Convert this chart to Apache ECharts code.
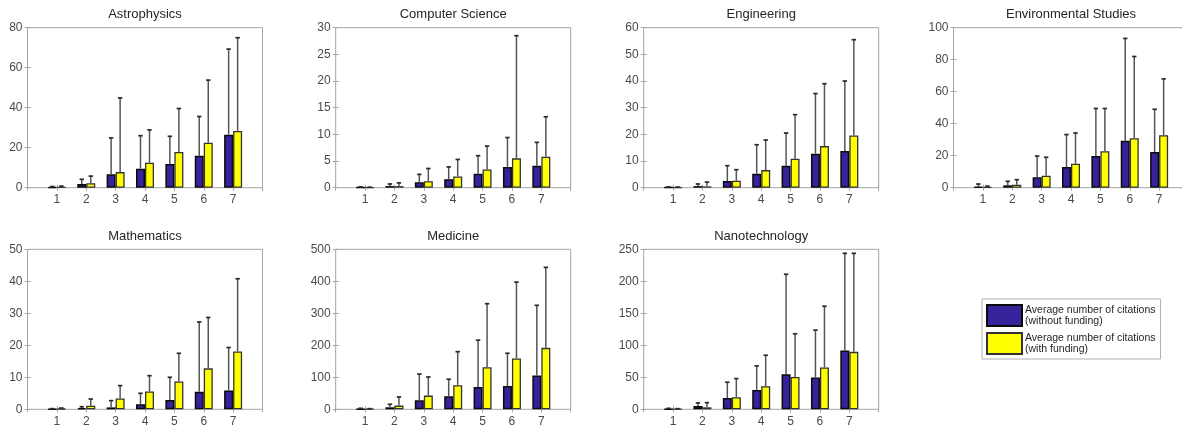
<!DOCTYPE html>
<html><head><meta charset="utf-8">
<script src="https://cdn.jsdelivr.net/npm/echarts@6/dist/echarts.min.js"></script>
<style>html,body{margin:0;padding:0;background:#fff}#c{width:1182px;height:425px}</style>
</head><body><div id="c"></div>
<script>
// ---------------- data ----------------
const categories = [1, 2, 3, 4, 5, 6, 7];
const subjects = ['Astrophysics', 'Computer Science', 'Engineering', 'Environmental Studies', 'Mathematics', 'Medicine', 'Nanotechnology'];
const legendLabels = ['Average number of citations\n(without funding)', 'Average number of citations\n(with funding)'];
const yMaxes = [80, 30, 60, 100, 50, 500, 250];
const ySteps = [20, 5, 10, 20, 10, 100, 50];

// mean values and upper end of error bar (mean + deviation)
const astroWithout      = [0.3, 1.8, 6.7, 9.5, 11.9, 16.0, 26.5];
const astroWithoutUpper = [0.6, 4.2, 24.9, 26.0, 25.7, 35.6, 69.3];
const astroWith         = [0.3, 2.2, 7.8, 12.5, 17.9, 22.5, 28.4];
const astroWithUpper    = [0.8, 5.8, 44.9, 28.9, 39.6, 53.8, 75.0];

const csWithout      = [0.05, 0.3, 1.0, 1.6, 2.6, 3.9, 4.1];
const csWithoutUpper = [0.15, 0.7, 2.5, 3.9, 6.0, 9.4, 8.5];
const csWith         = [0.05, 0.3, 1.2, 2.1, 3.4, 5.5, 5.8];
const csWithUpper    = [0.1, 0.9, 3.6, 5.3, 7.8, 28.5, 13.3];

const engWithout      = [0.1, 0.6, 2.5, 5.25, 8.25, 12.75, 13.75];
const engWithoutUpper = [0.3, 1.4, 8.25, 16.1, 20.5, 35.3, 40.0];
const engWith         = [0.1, 0.5, 2.6, 6.6, 10.9, 15.6, 19.6];
const engWithUpper    = [0.25, 2.1, 6.75, 17.9, 27.4, 39.0, 55.5];

const envWithout      = [0.5, 1.5, 6.5, 12.9, 19.8, 29.4, 22.3];
const envWithoutUpper = [2.3, 4.0, 19.8, 33.2, 49.5, 93.3, 49.0];
const envWith         = [0.5, 1.9, 7.5, 15.0, 22.8, 30.9, 32.8];
const envWithUpper    = [1.0, 5.0, 19.0, 34.2, 49.5, 82.0, 68.0];

const mathWithout      = [0.1, 0.4, 0.6, 1.6, 2.9, 5.5, 5.9];
const mathWithoutUpper = [0.2, 0.8, 2.7, 5.0, 10.0, 27.3, 19.3];
const mathWith         = [0.2, 1.1, 3.4, 5.6, 8.7, 12.8, 18.1];
const mathWithUpper    = [0.4, 3.2, 7.4, 10.5, 17.5, 28.7, 40.8];

const medWithout      = [1, 6.3, 28, 40.7, 70, 72.5, 106];
const medWithoutUpper = [3, 15.7, 110, 94, 216, 175, 325];
const medWith         = [1, 11.5, 42.8, 75, 131.5, 159, 192];
const medWithUpper    = [2, 38.6, 101, 180, 330, 397.5, 443.5];

const nanoWithout      = [0.5, 5.2, 17.7, 30.3, 54.8, 49.6, 91.9];
const nanoWithoutUpper = [1.5, 10.0, 42.3, 67.8, 211, 123.7, 243.7];
const nanoWith         = [0.5, 3.1, 18.8, 36.0, 50.6, 65.2, 89.8];
const nanoWithUpper    = [1.0, 10.4, 48.0, 84.5, 118, 161, 243.7];

const withoutSets = [astroWithout, csWithout, engWithout, envWithout, mathWithout, medWithout, nanoWithout];
const withoutUppers = [astroWithoutUpper, csWithoutUpper, engWithoutUpper, envWithoutUpper, mathWithoutUpper, medWithoutUpper, nanoWithoutUpper];
const withSets = [astroWith, csWith, engWith, envWith, mathWith, medWith, nanoWith];
const withUppers = [astroWithUpper, csWithUpper, engWithUpper, envWithUpper, mathWithUpper, medWithUpper, nanoWithUpper];

// ---------------- layout / style ----------------
const FONT = '"Liberation Sans", Arial, Helvetica, sans-serif';
const BLUE = '#38229c', YELLOW = '#ffff00';
const BOX = '#a6a6a6', LABEL = '#4a4a4a';
const gridLefts = [27.5, 335.7, 643.7, 953.5, 27.5, 335.7, 643.7];
const gridTops = [27.7, 27.7, 27.7, 27.7, 249.3, 249.3, 249.3];
const GW = 235, GH = 160, BARW = 9;

const chart = echarts.init(document.getElementById('c'), null, {renderer: 'canvas'});

function errRender(dx) {
  return function (params, api) {
    const x = api.value(0), lo = api.value(1), hi = api.value(2);
    const p0 = api.coord([x, lo]), p1 = api.coord([x, hi]);
    const cx = p0[0] + dx;
    return {type: 'group', children: [
      {type: 'line', shape: {x1: cx, y1: p0[1], x2: cx, y2: p1[1]}, style: {stroke: '#555', lineWidth: 1.5}},
      {type: 'line', shape: {x1: cx - 2.2, y1: p1[1], x2: cx + 2.2, y2: p1[1]}, style: {stroke: '#2a2a2a', lineWidth: 1.7}}
    ]};
  };
}

const grids = [], xAxes = [], yAxes = [], series = [], titles = [];
subjects.forEach((name, i) => {
  grids.push({left: gridLefts[i], top: gridTops[i], width: GW, height: GH, show: true,
    borderColor: BOX, borderWidth: 1, backgroundColor: 'transparent', containLabel: false, outerBoundsMode: 'none'});
  titles.push({text: name, left: gridLefts[i] + GW / 2, top: gridTops[i] - 19.5, textAlign: 'center', padding: 0,
    textStyle: {fontSize: 13, fontWeight: 'normal', color: '#262626', fontFamily: FONT}});
  const tick = {show: true, inside: true, length: 3, lineStyle: {color: BOX, width: 1}};
  xAxes.push({type: 'value', gridIndex: i, min: 0, max: 8, interval: 1, position: 'bottom',
    axisLine: {show: false}, splitLine: {show: false}, axisTick: tick,
    axisLabel: {margin: 6, fontSize: 12, color: LABEL, fontFamily: FONT,
      formatter: v => (categories.indexOf(v) >= 0 ? String(v) : '')}});
  xAxes.push({type: 'value', gridIndex: i, min: 0, max: 8, interval: 1, position: 'top',
    axisLine: {show: false}, splitLine: {show: false}, axisTick: tick, axisLabel: {show: false}});
  yAxes.push({type: 'value', gridIndex: i, min: 0, max: yMaxes[i], interval: ySteps[i], position: 'left',
    axisLine: {show: false}, splitLine: {show: false}, axisTick: tick,
    axisLabel: {margin: 5, fontSize: 12, color: LABEL, fontFamily: FONT}});
  yAxes.push({type: 'value', gridIndex: i, min: 0, max: yMaxes[i], interval: ySteps[i], position: 'right',
    axisLine: {show: false}, splitLine: {show: false}, axisTick: tick, axisLabel: {show: false}});

  const xi = 2 * i, yi = 2 * i;
  const barCommon = {type: 'bar', xAxisIndex: xi, yAxisIndex: yi, barWidth: BARW, barGap: '0%', z: 2,
    silent: true, animation: false};
  series.push(Object.assign({}, barCommon, {name: legendLabels[0],
    itemStyle: {color: BLUE, borderColor: '#0a0a0a', borderWidth: 1.5},
    data: categories.map((c, k) => [c, withoutSets[i][k]])}));
  series.push(Object.assign({}, barCommon, {name: legendLabels[1],
    itemStyle: {color: YELLOW, borderColor: '#333', borderWidth: 1.3},
    data: categories.map((c, k) => [c, withSets[i][k]])}));
  series.push({type: 'custom', xAxisIndex: xi, yAxisIndex: yi, z: 3, silent: true, animation: false,
    renderItem: errRender(-BARW / 2), encode: {x: 0, y: [1, 2]},
    data: categories.map((c, k) => [c, withoutSets[i][k], withoutUppers[i][k]])});
  series.push({type: 'custom', xAxisIndex: xi, yAxisIndex: yi, z: 3, silent: true, animation: false,
    renderItem: errRender(BARW / 2), encode: {x: 0, y: [1, 2]},
    data: categories.map((c, k) => [c, withSets[i][k], withUppers[i][k]])});
});

chart.setOption({
  backgroundColor: '#fff',
  animation: false,
  title: titles,
  grid: grids,
  xAxis: xAxes,
  yAxis: yAxes,
  legend: {
    data: legendLabels, orient: 'vertical', left: 982, top: 299,
    padding: [5, 5, 4, 4], itemWidth: 35, itemHeight: 21, itemGap: 5,
    borderColor: '#b0b0b0', borderWidth: 1, icon: 'rect', selectedMode: false,
    textStyle: {fontSize: 10.5, lineHeight: 11, color: '#262626', fontFamily: FONT, padding: [0, 0, 0, -2]}
  },
  series: series
});
</script>
</body></html>
